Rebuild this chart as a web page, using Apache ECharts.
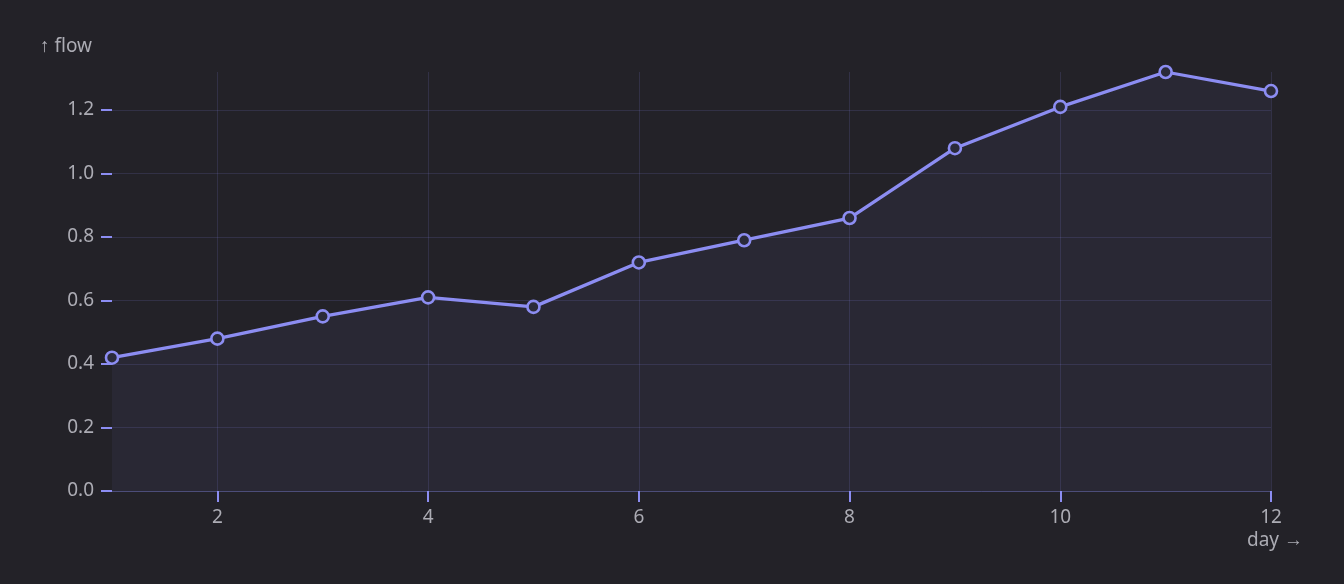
<!DOCTYPE html>
<html>
<head>
<meta charset="utf-8">
<script src="https://cdn.jsdelivr.net/npm/echarts@6/dist/echarts.min.js"></script>
<style>
  html, body { margin: 0; padding: 0; background: #232228; }
  #chart { width: 1344px; height: 584px; }
</style>
</head>
<body>
<div id="chart"></div>
<script>
// 数据
var days = [1, 2, 3, 4, 5, 6, 7, 8, 9, 10, 11, 12];
var flow = [0.42, 0.48, 0.55, 0.61, 0.58, 0.72, 0.79, 0.86, 1.08, 1.21, 1.32, 1.26];
var xTicks = [2, 4, 6, 8, 10, 12];

var lineColor = '#8c8df2';
var labelColor = '#acacb4';
var gridColor = 'rgba(140, 141, 242, 0.15)';

var chart = echarts.init(document.getElementById('chart'));

chart.setOption({
	backgroundColor: '#232228',
	animation: false,
	textStyle: { fontFamily: 'Noto Sans' },
	grid: { left: 112, right: 73, top: 72, bottom: 93 },
	xAxis: {
		type: 'value',
		min: 1,
		max: 12,
		name: 'day →',
		nameLocation: 'end',
		nameGap: 4,
		nameTextStyle: {
			color: labelColor, fontSize: 19,
			align: 'center', verticalAlign: 'top', padding: [40, 0, 0, 0]
		},
		axisLine: { show: true, lineStyle: { color: 'rgba(140, 141, 242, 0.3)', width: 1 } },
		axisTick: { show: true, length: 11, customValues: xTicks, lineStyle: { color: lineColor, width: 2 } },
		axisLabel: { color: labelColor, fontSize: 19, margin: 17, customValues: xTicks },
		splitLine: { show: true, lineStyle: { color: gridColor, width: 1 } }
	},
	yAxis: {
		type: 'value',
		min: 0,
		max: 'dataMax',
		interval: 0.2,
		name: '↑ flow',
		nameLocation: 'end',
		nameGap: 16,
		nameTextStyle: {
			color: labelColor, fontSize: 19,
			align: 'right', verticalAlign: 'bottom', padding: [0, 20, 0, 0]
		},
		axisLine: { show: false },
		axisTick: { show: true, length: 11, lineStyle: { color: lineColor, width: 2 } },
		axisLabel: {
			color: labelColor, fontSize: 19, margin: 18,
			showMaxLabel: false,
			formatter: function(v) { return v.toFixed(1); }
		},
		splitLine: { show: true, showMaxLine: false, lineStyle: { color: gridColor, width: 1 } }
	},
	series: [{
		type: 'line',
		data: days.map(function(d, i) { return [d, flow[i]]; }),
		symbol: 'circle',
		symbolSize: 12,
		showAllSymbol: true,
		lineStyle: { color: lineColor, width: 3.3 },
		itemStyle: { color: '#2b2b3a', borderColor: lineColor, borderWidth: 2.6 },
		areaStyle: { color: 'rgba(140, 141, 242, 0.09)' }
	}]
});
</script>
</body>
</html>
